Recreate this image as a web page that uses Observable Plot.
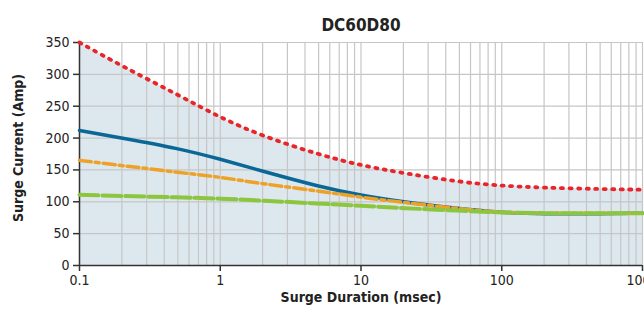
<!DOCTYPE html>
<html>
<head>
<meta charset="utf-8">
<script src="https://cdn.jsdelivr.net/npm/d3@7"></script>
<script src="https://cdn.jsdelivr.net/npm/@observablehq/plot@0.6"></script>
<style>
  html, body { margin: 0; padding: 0; background: #fff; }
  #chart svg { display: block; overflow: visible; }
</style>
</head>
<body>
<div id="chart"></div>
<script>
const title = "DC60D80";
const xLabel = "Surge Duration (msec)";
const yLabel = "Surge Current (Amp)";

const durations = [0.1, 0.2, 0.5, 1, 2, 5, 10, 20, 50, 100, 200, 500, 1000];
const redSeries    = [350, 313, 268, 232, 203, 174, 157, 145, 131, 125, 122, 120, 119];
const blueSeries   = [212, 200, 184, 167, 148, 124, 110, 100, 89, 83, 81, 81, 82];
const orangeSeries = [165, 157, 146, 139, 128, 117, 107, 99, 89, 83, 82, 82, 82];
const greenSeries  = [111, 109, 107, 105, 102, 97, 94, 90, 86, 83, 82, 82, 82];

const xTicks = [0.1, 1, 10, 100, 1000];
const yTicks = [0, 50, 100, 150, 200, 250, 300, 350];

const xGrid = [];
for (const decade of [0.1, 1, 10, 100]) for (let k = 1; k <= 9; k++) xGrid.push(+(decade * k).toPrecision(3));
xGrid.push(1000);

const rows = durations.map((d, i) => ({
  d, red: redSeries[i], blue: blueSeries[i], orange: orangeSeries[i], green: greenSeries[i]
}));

const font = "'Liberation Sans Narrow', 'DejaVu Sans Condensed', 'Roboto', sans-serif";

const chart = Plot.plot({
  width: 644,
  height: 312,
  marginLeft: 79,
  marginRight: 2,
  marginTop: 42,
  marginBottom: 47,
  style: { fontFamily: font, fontSize: "14px", color: "#222", background: "#fff" },
  x: { type: "log", domain: [0.1, 1000] },
  y: { domain: [0, 350] },
  marks: [
    Plot.areaY(rows, { x: "d", y: "red", fill: "#dce8ee", curve: "basis" }),
    Plot.ruleX(xGrid, { stroke: "#c6c6c6", strokeWidth: 1.2 }),
    Plot.ruleY(yTicks, { stroke: "#c6c6c6", strokeWidth: 1.2 }),
    Plot.ruleX([0.1], { stroke: "#333", strokeWidth: 1.5 }),
    Plot.ruleY([0], { stroke: "#333", strokeWidth: 1.5 }),
    Plot.axisX({ ticks: xTicks, tickFormat: d => String(d), tickSize: 6, tickPadding: 4, stroke: "#333", strokeWidth: 1.5, fontSize: 14, label: null }),
    Plot.axisY({ ticks: yTicks, tickSize: 6, tickPadding: 4, stroke: "#333", strokeWidth: 1.5, fontSize: 14, label: null }),
    Plot.line(rows, { x: "d", y: "blue", stroke: "#0a6796", strokeWidth: 3.5, curve: "basis" }),
    Plot.line(rows, { x: "d", y: "orange", stroke: "#eea125", strokeWidth: 3.5, strokeDasharray: "12,4,4,4", curve: "basis" }),
    Plot.line(rows, { x: "d", y: "green", stroke: "#8cc63f", strokeWidth: 4, strokeDasharray: "19,4", curve: "basis" }),
    Plot.line(rows, { x: "d", y: "red", stroke: "#e8262a", strokeWidth: 3.8, strokeDasharray: "2,6.5", strokeLinecap: "round", curve: "basis" }),
    Plot.text([title], { frameAnchor: "top", dy: -24, fontSize: 17, fontWeight: "bold", fill: "#222" }),
    Plot.text([xLabel], { frameAnchor: "bottom", dy: 36, fontSize: 14, fontWeight: "bold", fill: "#222" }),
    Plot.text([yLabel], { frameAnchor: "left", textAnchor: "middle", dx: -61, dy: -6, rotate: -90, fontSize: 14, fontWeight: "bold", fill: "#222" })
  ]
});
document.getElementById("chart").appendChild(chart);
</script>
</body>
</html>
